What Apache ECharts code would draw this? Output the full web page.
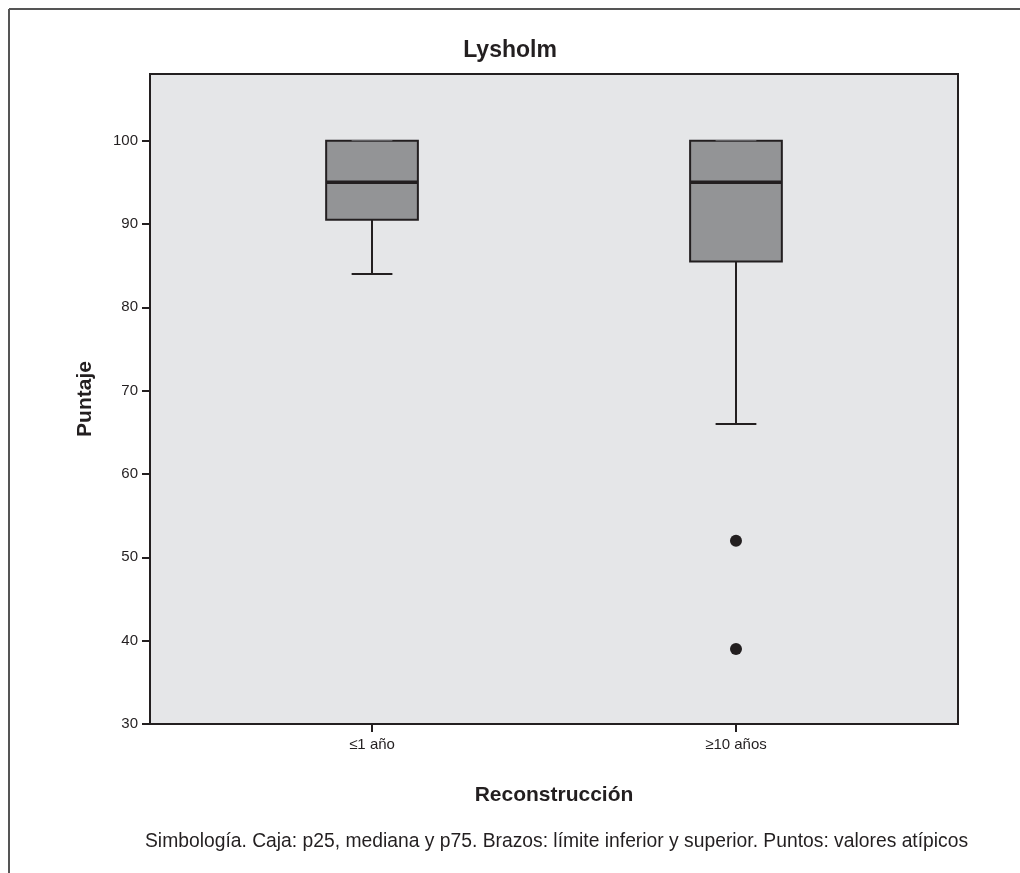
<!DOCTYPE html>
<html>
<head>
<meta charset="utf-8">
<script src="https://cdn.jsdelivr.net/npm/echarts@6/dist/echarts.min.js"></script>
<style>html,body{margin:0;padding:0;background:#fff;}#c{width:1020px;height:873px;}</style>
</head>
<body>
<div id="c"></div>
<script>
const categories = ['\u22641 a\u00f1o', '\u226510 a\u00f1os'];
const categoryPositions = [1, 2];
// [min, Q1, median, Q3, max]
const boxValues = [
  [84, 90.5, 95, 100, 100],
  [66, 85.5, 95, 100, 100]
];
// outliers: [category index, value]
const outliers = [[1, 52], [1, 39]];
const yTicks = [30, 40, 50, 60, 70, 80, 90, 100];

const ink = '#231f20';
const font = 'Liberation Sans, Arial, sans-serif';
const chart = echarts.init(document.getElementById('c'), null, {renderer: 'canvas'});

const boxData = boxValues.map((b, i) => [categoryPositions[i]].concat(b));
const outlierData = outliers.map(o => [categoryPositions[o[0]], o[1]]);

const boxHalf = 0.126;
const capHalf = 0.056;

const option = {
  backgroundColor: '#ffffff',
  animation: false,
  textStyle: {fontFamily: font},
  title: [
    {text: 'Lysholm', left: 'center', top: 34,
     textStyle: {fontSize: 23, fontWeight: 'bold', color: ink, fontFamily: font}},
    {text: 'Simbolog\u00eda. Caja: p25, mediana y p75. Brazos: l\u00edmite inferior y superior. Puntos: valores at\u00edpicos',
     left: 140, top: 827,
     textStyle: {fontSize: 19.3, fontWeight: 'normal', color: ink, fontFamily: font}}
  ],
  graphic: [
    {type: 'line', shape: {x1: 9, y1: 9, x2: 1020, y2: 9}, style: {stroke: '#555', lineWidth: 2}},
    {type: 'line', shape: {x1: 9, y1: 9, x2: 9, y2: 873}, style: {stroke: '#555', lineWidth: 2}}
  ],
  grid: {
    left: 150, top: 74, right: 62, bottom: 149,
    show: true, backgroundColor: '#e5e6e8', borderColor: ink, borderWidth: 2
  },
  xAxis: {
    type: 'value', min: 0.39, max: 2.61,
    name: 'Reconstrucci\u00f3n', nameLocation: 'middle', nameGap: 61,
    nameTextStyle: {fontSize: 21, fontWeight: 'bold', color: ink},
    axisLine: {show: true, lineStyle: {color: ink, width: 2}},
    axisTick: {show: true, length: 8, inside: false, customValues: categoryPositions, lineStyle: {color: ink, width: 2}},
    axisLabel: {customValues: categoryPositions, margin: 13, fontSize: 15, color: ink,
      formatter: v => categories[categoryPositions.indexOf(v)] || ''},
    splitLine: {show: false}
  },
  yAxis: {
    type: 'value', min: 30, max: 108,
    name: 'Puntaje', nameLocation: 'middle', nameGap: 54, nameRotate: 90,
    nameTextStyle: {fontSize: 21, fontWeight: 'bold', color: ink},
    axisLine: {show: true, lineStyle: {color: ink, width: 2}},
    axisTick: {show: true, length: 8, customValues: yTicks, lineStyle: {color: ink, width: 2}},
    axisLabel: {customValues: yTicks, margin: 12, fontSize: 15, color: ink},
    splitLine: {show: false}
  },
  series: [
    {
      type: 'custom',
      data: boxData,
      encode: {x: 0, y: [1, 2, 3, 4, 5]},
      renderItem: function (params, api) {
        const x = api.value(0);
        const mn = api.value(1), q1 = api.value(2), md = api.value(3), q3 = api.value(4), mx = api.value(5);
        const pL = api.coord([x - boxHalf, q3]);
        const pR = api.coord([x + boxHalf, q1]);
        const cL = api.coord([x - capHalf, mn]);
        const cR = api.coord([x + capHalf, mn]);
        const uL = api.coord([x - capHalf, mx]);
        const uR = api.coord([x + capHalf, mx]);
        const pMin = api.coord([x, mn]);
        const pQ1 = api.coord([x, q1]);
        const pQ3 = api.coord([x, q3]);
        const pMax = api.coord([x, mx]);
        const mL = api.coord([x - boxHalf, md]);
        const mR = api.coord([x + boxHalf, md]);
        return {
          type: 'group',
          children: [
            {type: 'line', shape: {x1: pQ1[0], y1: pQ1[1], x2: pMin[0], y2: pMin[1]}, style: {stroke: ink, lineWidth: 2}},
            {type: 'line', shape: {x1: pQ3[0], y1: pQ3[1], x2: pMax[0], y2: pMax[1]}, style: {stroke: ink, lineWidth: 2}},
            {type: 'line', shape: {x1: cL[0], y1: cL[1], x2: cR[0], y2: cR[1]}, style: {stroke: ink, lineWidth: 2}},
            {type: 'rect', shape: {x: pL[0], y: pL[1], width: pR[0] - pL[0], height: pR[1] - pL[1]},
             style: {fill: '#939496', stroke: ink, lineWidth: 2}},
            {type: 'line', shape: {x1: uL[0], y1: uL[1], x2: uR[0], y2: uR[1]}, style: {stroke: '#6f6f71', lineWidth: 1}},
            {type: 'line', shape: {x1: mL[0], y1: mL[1], x2: mR[0], y2: mR[1]}, style: {stroke: ink, lineWidth: 3.5}}
          ]
        };
      }
    },
    {
      type: 'scatter',
      data: outlierData,
      symbol: 'circle', symbolSize: 12,
      itemStyle: {color: ink, opacity: 1}
    }
  ]
};
chart.setOption(option);
</script>
</body>
</html>
